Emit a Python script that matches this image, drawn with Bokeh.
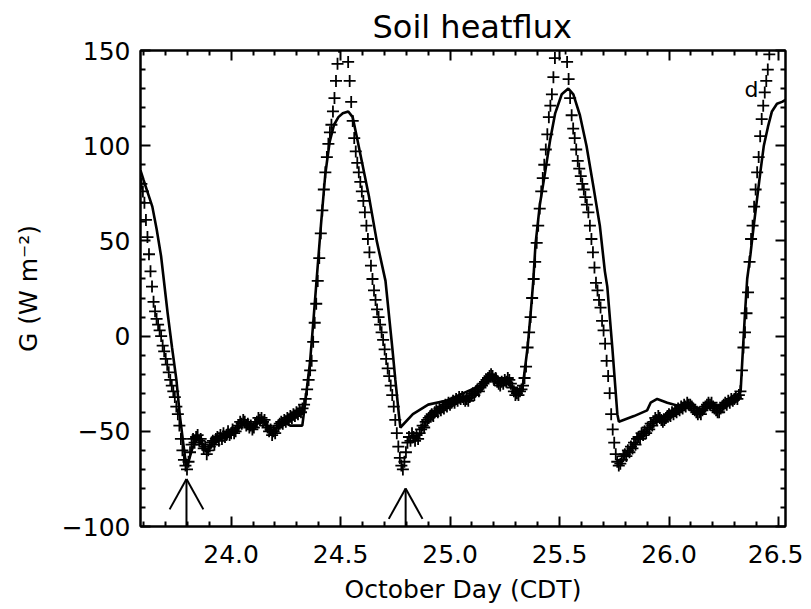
import numpy as np
from bokeh.plotting import figure
from bokeh.models import Range1d, LinearAxis, FixedTicker, CustomJSTickFormatter
from bokeh.core.properties import value
from bokeh.embed import file_html
from bokeh.resources import INLINE

# ---------------- data ----------------
# Observed soil heat flux (crosses), 10-minute samples starting at day 23.59
obs_start_day = 23.59
obs_step_day = 1.0 / 144.0
obs_night1_fall = [80, 76, 70, 61, 52, 43, 34, 26, 18, 13, 9, 6, 3, 0, -5, -8, -12, -15, -19, -23,
                   -26, -29, -32, -37, -41, -47, -54, -60, -65, -68, -70]
obs_night1 = [-66, -61, -57, -54, -56, -53, -52, -55, -54, -57, -59, -58, -62, -60, -58, -56, -55, -57, -54, -53,
              -55, -52, -54, -51, -53, -52, -50, -52, -51, -49, -51, -50, -48, -47, -45, -46, -44, -45, -47, -46,
              -48, -47, -49, -48, -46, -45, -43, -44, -43, -45, -44, -47, -48, -50, -49, -52, -50, -51, -48, -47,
              -46, -45, -46, -44, -45, -43, -44, -42, -43, -41, -42, -40, -41, -39, -40, -38]
obs_day1_rise = [-36, -33, -28, -23, -18, -13, -3, 7, 17, 29, 41, 54, 66, 77, 86, 94, 101, 107, 111, 118,
                 125, 134, 143]
obs_day1_peak = [152, 161, 166, 165, 160, 153]
obs_day1_fall = [144, 134, 123, 113, 104, 97, 91, 86, 81, 76, 71, 65, 58, 51, 44, 37, 30, 24, 19, 14,
                 10, 6, 2, -2, -7, -12, -17, -21, -26, -31, -37, -44, -51, -58, -64, -68, -70]
obs_night2 = [-66, -61, -56, -53, -55, -51, -53, -55, -52, -54, -51, -49, -47, -48, -45, -44, -43, -42, -41, -42,
              -40, -39, -40, -38, -39, -37, -38, -36, -37, -35, -36, -35, -34, -35, -33, -34, -32, -33, -32, -33,
              -34, -33, -34, -32, -31, -30, -31, -29, -28, -29, -27, -26, -25, -24, -23, -22, -21, -20, -21, -23,
              -22, -24, -25, -26, -24, -25, -23, -24, -22, -23, -25, -27, -29, -31, -30, -31, -29, -28]
obs_day2_rise = [-26, -22, -16, -6, 2, 10, 20, 30, 39, 49, 58, 67, 76, 83, 90, 98, 106, 115, 121, 127,
                 136, 146]
obs_day2_peak = [153, 160, 165, 167, 164, 158, 151]
obs_day2_fall = [144, 135, 125, 116, 109, 104, 98, 92, 88, 84, 80, 77, 73, 69, 65, 58, 51, 44, 36, 28,
                 24, 19, 15, 8, 3, -4, -13, -21, -30, -41, -49, -56, -62, -66, -68]
obs_night3 = [-67, -65, -63, -62, -63, -60, -61, -58, -59, -56, -57, -54, -53, -54, -51, -52, -50, -51, -48, -49,
              -46, -47, -45, -43, -44, -42, -43, -44, -45, -44, -43, -42, -41, -42, -40, -41, -39, -40, -38, -39,
              -37, -38, -36, -37, -35, -36, -36, -37, -38, -39, -40, -41, -40, -41, -39, -38, -37, -36, -35, -36,
              -35, -37, -38, -39, -40, -40, -38, -37, -36, -35, -36, -34, -35, -33, -34, -33, -32, -33, -31, -29]
obs_day3_rise = [-18, -6, 2, 12, 23, 39, 51, 58, 68, 77, 86, 94, 105, 114, 121, 128, 134, 140]
obs_day3_peak = [148, 155, 162, 168, 172, 175, 178, 180, 181, 182, 182]

obs_G = (obs_night1_fall + obs_night1 + obs_day1_rise + obs_day1_peak + obs_day1_fall +
         obs_night2 + obs_day2_rise + obs_day2_peak + obs_day2_fall +
         obs_night3 + obs_day3_rise + obs_day3_peak)
obs_day = obs_start_day + np.arange(len(obs_G)) * obs_step_day

# Model soil heat flux (solid line)
model_day = [23.586, 23.60, 23.62, 23.64, 23.66, 23.68, 23.692, 23.71, 23.73, 23.75, 23.765, 23.78, 23.79, 23.80,
             23.82, 23.845, 23.87, 23.89, 23.92, 23.95, 24.00, 24.03, 24.06, 24.10, 24.14, 24.19, 24.24, 24.27,
             24.325, 24.335, 24.36, 24.375, 24.39, 24.41, 24.43, 24.45, 24.47, 24.49, 24.51, 24.535, 24.555,
             24.575, 24.60, 24.63, 24.665, 24.705, 24.72, 24.736, 24.75, 24.766, 24.773, 24.83, 24.90, 24.98,
             25.04, 25.12, 25.18, 25.21, 25.235, 25.26, 25.30, 25.33, 25.354, 25.368, 25.38, 25.39, 25.41,
             25.434, 25.457, 25.48, 25.51, 25.54, 25.563, 25.593, 25.623, 25.654, 25.684, 25.707, 25.718,
             25.741, 25.764, 25.771, 25.84, 25.90, 25.916, 25.946, 25.992, 26.053, 26.10, 26.15, 26.20, 26.25,
             26.30, 26.327, 26.337, 26.347, 26.357, 26.372, 26.387, 26.402, 26.417, 26.433, 26.452, 26.47,
             26.493, 26.516, 26.532]
model_G = [87, 82, 75, 68, 56, 42, 30, 12, -6, -23, -41, -55, -64, -68,
           -60, -53, -57, -61, -55, -52, -51, -49, -45, -48, -44, -50, -45, -47,
           -47, -38, -14, 7, 29, 58, 85, 102, 111, 115, 117, 118, 115,
           104, 90, 73, 50, 29, 12, -6, -23, -41, -48, -41, -36, -34,
           -31, -27, -23, -21, -23, -25, -28, -28, -6, 12, 29, 48, 69,
           86, 103, 117, 127, 130, 127, 116, 100, 79, 58, 34, 26,
           -6, -41, -45, -42, -39, -35, -33, -35, -37, -36, -39, -36, -37,
           -34, -29, -8, 12, 30, 43, 58, 72, 86, 100, 110, 118,
           122, 123, 124]

# Arrows marking the night-time minima
arrow_day = [23.796, 24.797]
arrow_tip_G = [-75, -80]
arrow_head_G = [-91, -96]
arrow_base_G = [-100, -100]

# Panel letter
panel_letter = ["d"]
panel_letter_day = [26.377]
panel_letter_G = [129.5]

x_major_ticks = [24.0, 24.5, 25.0, 25.5, 26.0, 26.5]
x_minor_ticks = [23.6, 23.7, 23.8, 23.9, 24.1, 24.2, 24.3, 24.4, 24.6, 24.7, 24.8, 24.9,
                 25.1, 25.2, 25.3, 25.4, 25.6, 25.7, 25.8, 25.9, 26.1, 26.2, 26.3, 26.4]
y_major_ticks = [-100, -50, 0, 50, 100, 150]
y_minor_ticks = [-90, -80, -70, -60, -40, -30, -20, -10, 10, 20, 30, 40,
                 60, 70, 80, 90, 110, 120, 130, 140]

FONT = "DejaVu Sans"

p = figure(width=803, height=607, output_backend="svg", toolbar_location=None,
           x_range=Range1d(23.586, 26.532), y_range=Range1d(-100, 150),
           min_border_left=140, min_border_right=18, min_border_top=50, min_border_bottom=81,
           title="Soil heatflux")
p.background_fill_color = "white"
p.border_fill_color = "white"
p.xgrid.visible = False
p.ygrid.visible = False
p.outline_line_color = "black"
p.outline_line_width = 2

p.title.text_font = FONT
p.title.text_font_size = "32px"
p.title.text_font_style = "normal"
p.title.text_color = "black"
p.title.align = "left"
p.title.offset = 232
p.title.standoff = 10

xt = FixedTicker(ticks=x_major_ticks, minor_ticks=x_minor_ticks)
yt = FixedTicker(ticks=y_major_ticks, minor_ticks=y_minor_ticks)

def style_axis(ax):
    ax.axis_line_color = "black"
    ax.axis_line_width = 2
    ax.major_tick_line_color = "black"
    ax.major_tick_line_width = 2
    ax.minor_tick_line_color = "black"
    ax.minor_tick_line_width = 2
    ax.major_tick_in = 10
    ax.major_tick_out = 0
    ax.minor_tick_in = 5
    ax.minor_tick_out = 0
    ax.major_label_text_font = FONT
    ax.major_label_text_font_size = "25px"
    ax.major_label_text_color = "black"
    ax.axis_label_text_font = FONT
    ax.axis_label_text_font_size = "25px"
    ax.axis_label_text_font_style = "normal"
    ax.axis_label_text_color = "black"

xax = p.xaxis[0]
yax = p.yaxis[0]
xax.ticker = xt
yax.ticker = yt
xax.formatter = CustomJSTickFormatter(code="return tick.toFixed(1);")
yax.formatter = CustomJSTickFormatter(code="return tick < 0 ? '\u2212' + Math.abs(tick) : String(tick);")
style_axis(xax)
style_axis(yax)
xax.axis_label = "October Day (CDT)"
yax.axis_label = "G (W m\u207b\u00b2)"
xax.major_label_standoff = 18
xax.axis_label_standoff = 9
yax.major_label_standoff = 10
yax.axis_label_standoff = 16

blank = "return '';"
top_ax = LinearAxis(ticker=xt, formatter=CustomJSTickFormatter(code=blank))
right_ax = LinearAxis(ticker=yt, formatter=CustomJSTickFormatter(code=blank))
for ax in (top_ax, right_ax):
    style_axis(ax)
    ax.major_label_text_font_size = "1px"
    ax.major_label_standoff = 0
p.add_layout(top_ax, "above")
p.add_layout(right_ax, "right")

# observations
p.scatter(obs_day, obs_G, marker="cross", size=12, line_color="black", line_width=1.8)
# model
p.line(model_day, model_G, line_color="black", line_width=2.6)

# arrows
head_dx = 0.077
ad = np.array(arrow_day)
p.segment(x0=ad, y0=arrow_base_G, x1=ad, y1=arrow_tip_G, line_color="black", line_width=2)
p.segment(x0=ad - head_dx, y0=arrow_head_G, x1=ad, y1=arrow_tip_G, line_color="black", line_width=2)
p.segment(x0=ad + head_dx, y0=arrow_head_G, x1=ad, y1=arrow_tip_G, line_color="black", line_width=2)

p.text(x=panel_letter_day, y=panel_letter_G, text=panel_letter, text_font=value(FONT),
       text_font_size="22px", text_align="center", text_baseline="alphabetic", text_color="black")

open("out.html", "w").write(file_html(p, INLINE))
